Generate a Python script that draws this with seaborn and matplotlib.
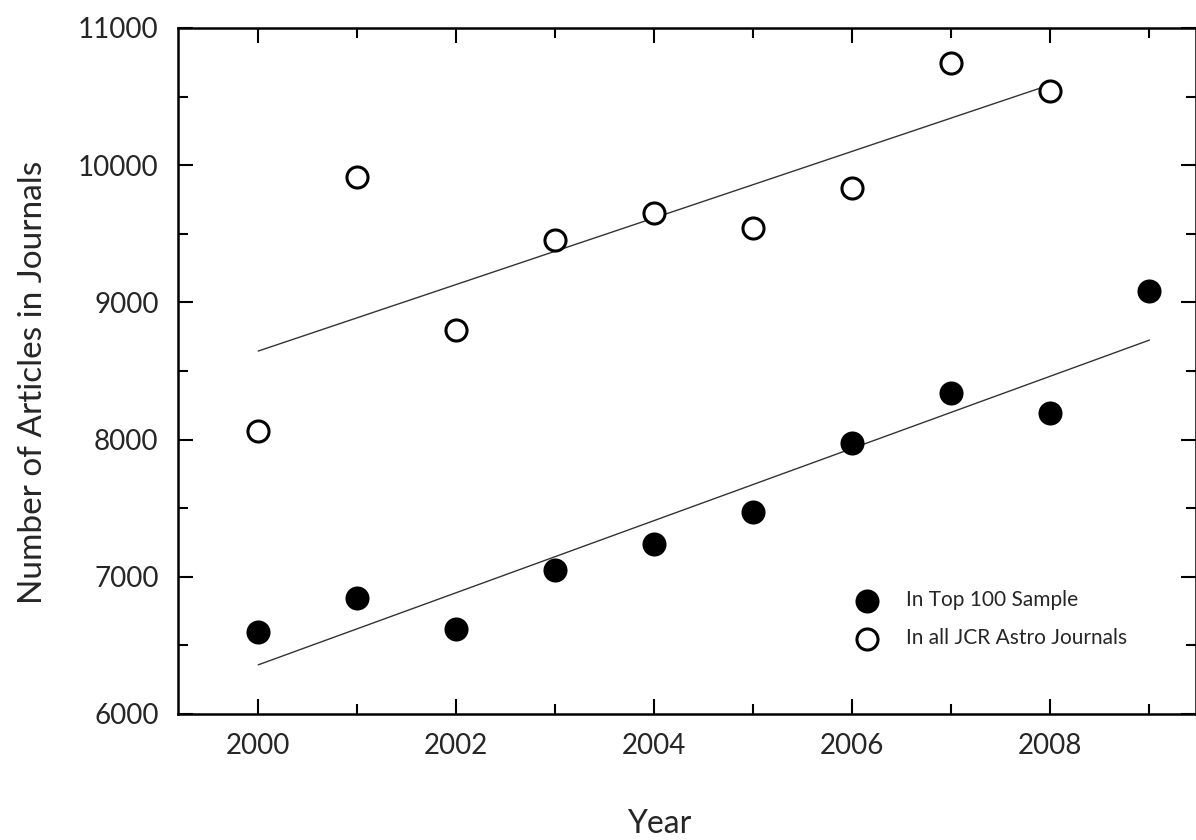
import pandas as pd
import matplotlib.pyplot as plt
import seaborn as sns
from matplotlib.ticker import MultipleLocator

# Articles per year
years_top = [2000, 2001, 2002, 2003, 2004, 2005, 2006, 2007, 2008, 2009]
top100 = [6600, 6845, 6620, 7050, 7239, 7472, 7975, 8340, 8194, 9083]

years_jcr = [2000, 2001, 2002, 2003, 2004, 2005, 2006, 2007, 2008]
jcr_all = [8063, 9914, 8799, 9455, 9652, 9542, 9834, 10745, 10541]

top_df = pd.DataFrame({'Year': years_top, 'Articles': top100})
jcr_df = pd.DataFrame({'Year': years_jcr, 'Articles': jcr_all})

sns.set_style("ticks")
plt.rcParams['font.family'] = ['Lato', 'DejaVu Sans']

fig = plt.figure(figsize=(11.96, 8.4), dpi=100)
ax = fig.add_axes([178 / 1196, 126 / 840, 1018 / 1196, 686 / 840])

# fitted lines
sns.regplot(data=top_df, x='Year', y='Articles', ax=ax, scatter=False, ci=None,
            color='#333333', line_kws={'linewidth': 1.0})
sns.regplot(data=jcr_df, x='Year', y='Articles', ax=ax, scatter=False, ci=None,
            color='#333333', line_kws={'linewidth': 1.0})

sns.scatterplot(data=top_df, x='Year', y='Articles', ax=ax, s=300, color='black',
                edgecolor='black', linewidth=0, label='In Top 100 Sample', zorder=3)
sns.scatterplot(data=jcr_df, x='Year', y='Articles', ax=ax, s=230, facecolor='white',
                edgecolor='black', linewidth=2.2, label='In all JCR Astro Journals', zorder=3)

ax.set_xlim(1999.19, 2009.47)
ax.set_ylim(6000, 11000)
ax.xaxis.set_major_locator(MultipleLocator(2))
ax.xaxis.set_minor_locator(MultipleLocator(1))
ax.yaxis.set_major_locator(MultipleLocator(1000))
ax.yaxis.set_minor_locator(MultipleLocator(500))
ax.tick_params(which='both', direction='in', top=True, right=True, width=1.5,
               labelsize=20, color='black')
ax.tick_params(which='major', length=11, pad=14)
ax.tick_params(which='minor', length=7)
for sp in ax.spines.values():
    sp.set_linewidth(1.8)
    sp.set_color('black')

ax.set_xlabel("Year", fontsize=23)
ax.set_ylabel("Number of Articles in Journals", fontsize=24)
ax.xaxis.set_label_coords(0.4725, -0.138)
ax.yaxis.set_label_coords(-0.128, 0.484)

ax.legend(loc='lower left', bbox_to_anchor=(0.648, 0.084), frameon=False, fontsize=15,
          handletextpad=0.9, labelspacing=0.85, borderaxespad=0)

fig.savefig("out.png", dpi=100)
